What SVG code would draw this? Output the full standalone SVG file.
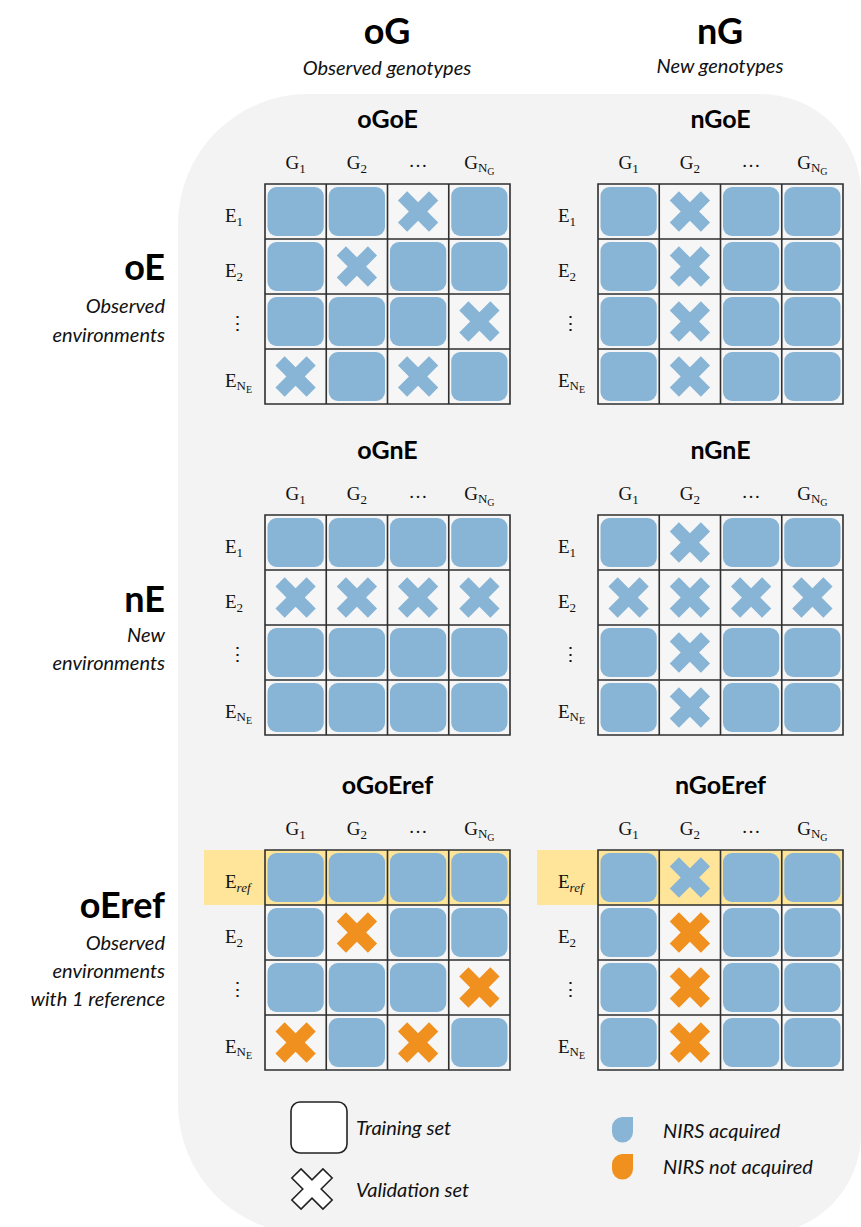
<svg xmlns="http://www.w3.org/2000/svg" xmlns:xlink="http://www.w3.org/1999/xlink" width="861" height="1227" viewBox="0 0 861 1227">
<style>
.bg{fill:#f3f3f3}
.gridbg{fill:#f6f6f6}
.gl{fill:none;stroke:#2f2f2f;stroke-width:1.6}
.sq{fill:#88b4d6}
.xb{fill:#88b4d6}
.xo{fill:#f0901f}
.hl{fill:#fee59a}
.h1{font-family:Lato,"Liberation Sans",sans-serif;font-weight:bold;font-size:36px;fill:#000}
.h2{font-family:Lato,"Liberation Sans",sans-serif;font-style:italic;font-size:20px;fill:#111}
.t{font-family:Lato,"Liberation Sans",sans-serif;font-weight:bold;font-size:25px;fill:#000;text-anchor:middle}
.m{font-family:"Liberation Serif","DejaVu Serif",serif;font-size:19px;fill:#111}
.mc{text-anchor:middle}
.s1{font-size:13px}
.s2{font-size:10px}
.lg{font-family:Lato,"Liberation Sans",sans-serif;font-style:italic;font-size:20px;fill:#111}
</style>
<defs>
<rect id="sq" x="0" y="0" width="56.25" height="49" rx="9"/>
<path id="xs" transform="rotate(45)" d="M6.5,-22 L6.5,-6.5 L22,-6.5 L22,6.5 L6.5,6.5 L6.5,22 L-6.5,22 L-6.5,6.5 L-22,6.5 L-22,-6.5 L-6.5,-6.5 L-6.5,-22 Z"/>
<path id="grid" d="M0,0 H245 V220 H0 Z M61.25,0 V220 M122.5,0 V220 M183.75,0 V220 M0,55 H245 M0,110 H245 M0,165 H245"/>
</defs>

<path class="bg" d="M178,224 A130,130 0 0 1 308,94 L761,94 A100,100 0 0 1 861,194 L861,1134 A100,100 0 0 1 761,1234 L308,1234 A130,130 0 0 1 178,1104 Z"/>

<g id="headers">
<text class="h1" x="387" y="44" text-anchor="middle">oG</text>
<text class="h2" x="387" y="75" text-anchor="middle">Observed genotypes</text>
<text class="h1" x="720" y="44" text-anchor="middle">nG</text>
<text class="h2" x="720" y="73" text-anchor="middle">New genotypes</text>
<g text-anchor="end">
<text class="h1" x="165" y="280">oE</text>
<text class="h2" x="165" y="313">Observed</text>
<text class="h2" x="165" y="342">environments</text>
<text class="h1" x="165" y="612">nE</text>
<text class="h2" x="165" y="642">New</text>
<text class="h2" x="165" y="670">environments</text>
<text class="h1" x="165" y="918">oEref</text>
<text class="h2" x="165" y="950">Observed</text>
<text class="h2" x="165" y="978">environments</text>
<text class="h2" x="165" y="1006">with 1 reference</text>
</g>
</g>

<!-- oGoE -->
<g id="oGoE" transform="translate(265,184)">
<text class="t" x="122.5" y="-56">oGoE</text>
<text class="m mc" x="30.6" y="-15">G<tspan class="s1" dy="4">1</tspan></text>
<text class="m mc" x="91.9" y="-15">G<tspan class="s1" dy="4">2</tspan></text>
<text class="m mc" x="153.1" y="-17">…</text>
<text class="m mc" x="214.4" y="-15">G<tspan class="s1" dy="3">N</tspan><tspan class="s2" dy="3">G</tspan></text>
<text class="m" x="-40" y="38">E<tspan class="s1" dy="4">1</tspan></text>
<text class="m" x="-40" y="93">E<tspan class="s1" dy="4">2</tspan></text>
<text class="m mc" x="-28" y="146">⋮</text>
<text class="m" x="-40" y="203">E<tspan class="s1" dy="3">N</tspan><tspan class="s2" dy="3">E</tspan></text>
<rect class="gridbg" width="245" height="220"/>
<use href="#sq" class="sq" x="2.5" y="3"/><use href="#sq" class="sq" x="63.75" y="3"/><use href="#xs" class="xb" x="153.1" y="27.5"/><use href="#sq" class="sq" x="186.25" y="3"/>
<use href="#sq" class="sq" x="2.5" y="58"/><use href="#xs" class="xb" x="91.9" y="82.5"/><use href="#sq" class="sq" x="125" y="58"/><use href="#sq" class="sq" x="186.25" y="58"/>
<use href="#sq" class="sq" x="2.5" y="113"/><use href="#sq" class="sq" x="63.75" y="113"/><use href="#sq" class="sq" x="125" y="113"/><use href="#xs" class="xb" x="214.4" y="137.5"/>
<use href="#xs" class="xb" x="30.6" y="192.5"/><use href="#sq" class="sq" x="63.75" y="168"/><use href="#xs" class="xb" x="153.1" y="192.5"/><use href="#sq" class="sq" x="186.25" y="168"/>
<use href="#grid" class="gl"/>
</g>

<!-- nGoE -->
<g id="nGoE" transform="translate(598,184)">
<text class="t" x="122.5" y="-56">nGoE</text>
<text class="m mc" x="30.6" y="-15">G<tspan class="s1" dy="4">1</tspan></text>
<text class="m mc" x="91.9" y="-15">G<tspan class="s1" dy="4">2</tspan></text>
<text class="m mc" x="153.1" y="-17">…</text>
<text class="m mc" x="214.4" y="-15">G<tspan class="s1" dy="3">N</tspan><tspan class="s2" dy="3">G</tspan></text>
<text class="m" x="-40" y="38">E<tspan class="s1" dy="4">1</tspan></text>
<text class="m" x="-40" y="93">E<tspan class="s1" dy="4">2</tspan></text>
<text class="m mc" x="-28" y="146">⋮</text>
<text class="m" x="-40" y="203">E<tspan class="s1" dy="3">N</tspan><tspan class="s2" dy="3">E</tspan></text>
<rect class="gridbg" width="245" height="220"/>
<use href="#sq" class="sq" x="2.5" y="3"/><use href="#xs" class="xb" x="91.9" y="27.5"/><use href="#sq" class="sq" x="125" y="3"/><use href="#sq" class="sq" x="186.25" y="3"/>
<use href="#sq" class="sq" x="2.5" y="58"/><use href="#xs" class="xb" x="91.9" y="82.5"/><use href="#sq" class="sq" x="125" y="58"/><use href="#sq" class="sq" x="186.25" y="58"/>
<use href="#sq" class="sq" x="2.5" y="113"/><use href="#xs" class="xb" x="91.9" y="137.5"/><use href="#sq" class="sq" x="125" y="113"/><use href="#sq" class="sq" x="186.25" y="113"/>
<use href="#sq" class="sq" x="2.5" y="168"/><use href="#xs" class="xb" x="91.9" y="192.5"/><use href="#sq" class="sq" x="125" y="168"/><use href="#sq" class="sq" x="186.25" y="168"/>
<use href="#grid" class="gl"/>
</g>

<!-- oGnE -->
<g id="oGnE" transform="translate(265,515)">
<text class="t" x="122.5" y="-56">oGnE</text>
<text class="m mc" x="30.6" y="-15">G<tspan class="s1" dy="4">1</tspan></text>
<text class="m mc" x="91.9" y="-15">G<tspan class="s1" dy="4">2</tspan></text>
<text class="m mc" x="153.1" y="-17">…</text>
<text class="m mc" x="214.4" y="-15">G<tspan class="s1" dy="3">N</tspan><tspan class="s2" dy="3">G</tspan></text>
<text class="m" x="-40" y="38">E<tspan class="s1" dy="4">1</tspan></text>
<text class="m" x="-40" y="93">E<tspan class="s1" dy="4">2</tspan></text>
<text class="m mc" x="-28" y="146">⋮</text>
<text class="m" x="-40" y="203">E<tspan class="s1" dy="3">N</tspan><tspan class="s2" dy="3">E</tspan></text>
<rect class="gridbg" width="245" height="220"/>
<use href="#sq" class="sq" x="2.5" y="3"/><use href="#sq" class="sq" x="63.75" y="3"/><use href="#sq" class="sq" x="125" y="3"/><use href="#sq" class="sq" x="186.25" y="3"/>
<use href="#xs" class="xb" x="30.6" y="82.5"/><use href="#xs" class="xb" x="91.9" y="82.5"/><use href="#xs" class="xb" x="153.1" y="82.5"/><use href="#xs" class="xb" x="214.4" y="82.5"/>
<use href="#sq" class="sq" x="2.5" y="113"/><use href="#sq" class="sq" x="63.75" y="113"/><use href="#sq" class="sq" x="125" y="113"/><use href="#sq" class="sq" x="186.25" y="113"/>
<use href="#sq" class="sq" x="2.5" y="168"/><use href="#sq" class="sq" x="63.75" y="168"/><use href="#sq" class="sq" x="125" y="168"/><use href="#sq" class="sq" x="186.25" y="168"/>
<use href="#grid" class="gl"/>
</g>

<!-- nGnE -->
<g id="nGnE" transform="translate(598,515)">
<text class="t" x="122.5" y="-56">nGnE</text>
<text class="m mc" x="30.6" y="-15">G<tspan class="s1" dy="4">1</tspan></text>
<text class="m mc" x="91.9" y="-15">G<tspan class="s1" dy="4">2</tspan></text>
<text class="m mc" x="153.1" y="-17">…</text>
<text class="m mc" x="214.4" y="-15">G<tspan class="s1" dy="3">N</tspan><tspan class="s2" dy="3">G</tspan></text>
<text class="m" x="-40" y="38">E<tspan class="s1" dy="4">1</tspan></text>
<text class="m" x="-40" y="93">E<tspan class="s1" dy="4">2</tspan></text>
<text class="m mc" x="-28" y="146">⋮</text>
<text class="m" x="-40" y="203">E<tspan class="s1" dy="3">N</tspan><tspan class="s2" dy="3">E</tspan></text>
<rect class="gridbg" width="245" height="220"/>
<use href="#sq" class="sq" x="2.5" y="3"/><use href="#xs" class="xb" x="91.9" y="27.5"/><use href="#sq" class="sq" x="125" y="3"/><use href="#sq" class="sq" x="186.25" y="3"/>
<use href="#xs" class="xb" x="30.6" y="82.5"/><use href="#xs" class="xb" x="91.9" y="82.5"/><use href="#xs" class="xb" x="153.1" y="82.5"/><use href="#xs" class="xb" x="214.4" y="82.5"/>
<use href="#sq" class="sq" x="2.5" y="113"/><use href="#xs" class="xb" x="91.9" y="137.5"/><use href="#sq" class="sq" x="125" y="113"/><use href="#sq" class="sq" x="186.25" y="113"/>
<use href="#sq" class="sq" x="2.5" y="168"/><use href="#xs" class="xb" x="91.9" y="192.5"/><use href="#sq" class="sq" x="125" y="168"/><use href="#sq" class="sq" x="186.25" y="168"/>
<use href="#grid" class="gl"/>
</g>

<!-- oGoEref -->
<g id="oGoEref" transform="translate(265,850)">
<text class="t" x="122.5" y="-56">oGoEref</text>
<text class="m mc" x="30.6" y="-15">G<tspan class="s1" dy="4">1</tspan></text>
<text class="m mc" x="91.9" y="-15">G<tspan class="s1" dy="4">2</tspan></text>
<text class="m mc" x="153.1" y="-17">…</text>
<text class="m mc" x="214.4" y="-15">G<tspan class="s1" dy="3">N</tspan><tspan class="s2" dy="3">G</tspan></text>
<rect class="gridbg" width="245" height="220"/>
<rect class="hl" x="-61" y="0" width="306" height="55"/>
<text class="m" x="-40" y="38">E<tspan class="s1" dy="4" font-style="italic">ref</tspan></text>
<text class="m" x="-40" y="93">E<tspan class="s1" dy="4">2</tspan></text>
<text class="m mc" x="-28" y="146">⋮</text>
<text class="m" x="-40" y="203">E<tspan class="s1" dy="3">N</tspan><tspan class="s2" dy="3">E</tspan></text>
<use href="#sq" class="sq" x="2.5" y="3"/><use href="#sq" class="sq" x="63.75" y="3"/><use href="#sq" class="sq" x="125" y="3"/><use href="#sq" class="sq" x="186.25" y="3"/>
<use href="#sq" class="sq" x="2.5" y="58"/><use href="#xs" class="xo" x="91.9" y="82.5"/><use href="#sq" class="sq" x="125" y="58"/><use href="#sq" class="sq" x="186.25" y="58"/>
<use href="#sq" class="sq" x="2.5" y="113"/><use href="#sq" class="sq" x="63.75" y="113"/><use href="#sq" class="sq" x="125" y="113"/><use href="#xs" class="xo" x="214.4" y="137.5"/>
<use href="#xs" class="xo" x="30.6" y="192.5"/><use href="#sq" class="sq" x="63.75" y="168"/><use href="#xs" class="xo" x="153.1" y="192.5"/><use href="#sq" class="sq" x="186.25" y="168"/>
<use href="#grid" class="gl"/>
</g>

<!-- nGoEref -->
<g id="nGoEref" transform="translate(598,850)">
<text class="t" x="122.5" y="-56">nGoEref</text>
<text class="m mc" x="30.6" y="-15">G<tspan class="s1" dy="4">1</tspan></text>
<text class="m mc" x="91.9" y="-15">G<tspan class="s1" dy="4">2</tspan></text>
<text class="m mc" x="153.1" y="-17">…</text>
<text class="m mc" x="214.4" y="-15">G<tspan class="s1" dy="3">N</tspan><tspan class="s2" dy="3">G</tspan></text>
<rect class="gridbg" width="245" height="220"/>
<rect class="hl" x="-61" y="0" width="306" height="55"/>
<text class="m" x="-40" y="38">E<tspan class="s1" dy="4" font-style="italic">ref</tspan></text>
<text class="m" x="-40" y="93">E<tspan class="s1" dy="4">2</tspan></text>
<text class="m mc" x="-28" y="146">⋮</text>
<text class="m" x="-40" y="203">E<tspan class="s1" dy="3">N</tspan><tspan class="s2" dy="3">E</tspan></text>
<use href="#sq" class="sq" x="2.5" y="3"/><use href="#xs" class="xb" x="91.9" y="27.5"/><use href="#sq" class="sq" x="125" y="3"/><use href="#sq" class="sq" x="186.25" y="3"/>
<use href="#sq" class="sq" x="2.5" y="58"/><use href="#xs" class="xo" x="91.9" y="82.5"/><use href="#sq" class="sq" x="125" y="58"/><use href="#sq" class="sq" x="186.25" y="58"/>
<use href="#sq" class="sq" x="2.5" y="113"/><use href="#xs" class="xo" x="91.9" y="137.5"/><use href="#sq" class="sq" x="125" y="113"/><use href="#sq" class="sq" x="186.25" y="113"/>
<use href="#sq" class="sq" x="2.5" y="168"/><use href="#xs" class="xo" x="91.9" y="192.5"/><use href="#sq" class="sq" x="125" y="168"/><use href="#sq" class="sq" x="186.25" y="168"/>
<use href="#grid" class="gl"/>
</g>

<g id="legend">
<rect x="291" y="1102" width="56" height="51" rx="9" fill="#fff" stroke="#222" stroke-width="1.6"/>
<text class="lg" x="356" y="1135">Training set</text>
<use href="#xs" x="312" y="1189" fill="#fff" stroke="#222" stroke-width="1.6"/>
<text class="lg" x="356" y="1197">Validation set</text>
<path class="sq" d="M622,1117 L633,1117 L633,1132 A10.5,10.5 0 0 1 612,1132 L612,1127.5 A10.5,10.5 0 0 1 622,1117 Z"/>
<text class="lg" x="663" y="1138">NIRS acquired</text>
<path class="xo" d="M622,1154 L633,1154 L633,1169 A10.5,10.5 0 0 1 612,1169 L612,1164.5 A10.5,10.5 0 0 1 622,1154 Z"/>
<text class="lg" x="663" y="1174">NIRS not acquired</text>
</g>
</svg>
